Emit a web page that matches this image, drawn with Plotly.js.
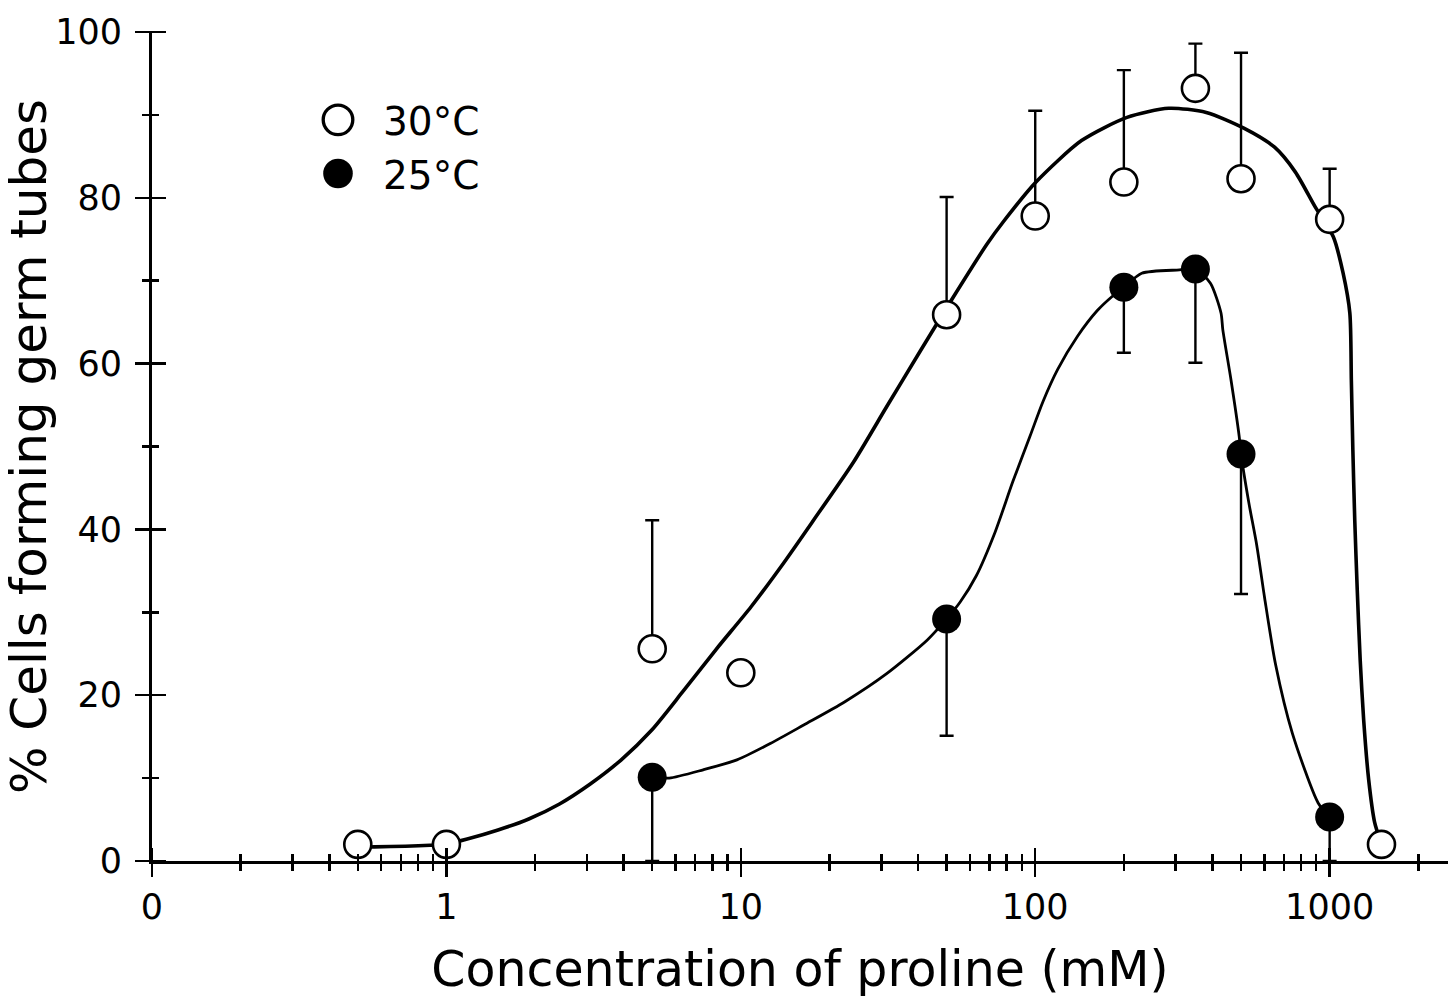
<!DOCTYPE html>
<html>
<head>
<meta charset="utf-8">
<script src="https://cdn.plot.ly/plotly-3.0.1.min.js"></script>
<style>html,body{margin:0;padding:0;background:#fff;}#chart{width:1448px;height:998px;}</style>
</head>
<body>
<div id="chart"></div>
<script>
// ---- data ----
const conc30 = [0.5, 1, 5, 10, 50, 100, 200, 350, 500, 1000, 1500];
const pct30 = [2, 2, 25.6, 22.7, 65.9, 77.8, 81.9, 93.2, 82.3, 77.4, 2];
const err30Up = [0, 0, 15.5, 0, 14.2, 12.7, 13.5, 5.4, 15.2, 6.1, 0];

const conc25 = [5, 50, 200, 350, 500, 1000];
const pct25 = [10.1, 29.2, 69.2, 71.4, 49.1, 5.3];
const err25Down = [10.1, 14.1, 7.9, 11.3, 16.9, 5.3];

// hand-drawn fitted curves
const fit30X = [0.5, 0.57, 0.88, 1, 1.177, 1.497, 1.904, 2.422, 3.08, 3.917, 4.984, 6.34, 8.26, 10.82, 13.98, 17.68, 24.15, 31.24, 40.7, 52.2, 68.6, 77.8, 100.6, 143.6, 205, 284, 381, 511, 650, 765, 893, 1029, 1111, 1171, 1185, 1199, 1217, 1241, 1270, 1305, 1357, 1421, 1500];
const fit30Y = [1.7, 1.7, 1.9, 2.05, 2.65, 3.74, 5.07, 6.88, 9.29, 12.18, 15.8, 20.39, 25.57, 30.64, 35.95, 41.13, 48.13, 54.76, 61.52, 67.79, 74.43, 77.08, 81.9, 86.9, 89.7, 90.8, 90.3, 88.4, 86.1, 83.1, 78.9, 75.3, 70.9, 66.1, 58.0, 49.6, 41.1, 32.7, 24.2, 17.0, 9.8, 4.7, 2];

const fit25X = [5, 5.71, 7.45, 9.70, 12.64, 16.35, 22.5, 31.2, 43.0, 50, 55.6, 63.0, 73.1, 84.0, 95.9, 106.2, 119.2, 139.2, 162.5, 182.5, 200, 230, 309, 350, 393.6, 427.6, 433.6, 462.5, 493, 500, 531.6, 565.4, 601.6, 655.2, 747.2, 914, 1000];
const fit25Y = [10.1, 10.0, 11.0, 12.2, 14.2, 16.4, 19.18, 22.56, 26.66, 29.2, 31.24, 34.38, 39.7, 45.8, 51.2, 55.4, 59.3, 63.3, 66.4, 68.1, 69.2, 70.9, 71.3, 71.4, 69.7, 66.1, 64.1, 58.0, 51.2, 49.1, 43.2, 38.1, 31.7, 23.7, 15.4, 7.0, 5.3];

const xTickVals = [0.1, 1, 10, 100, 1000];
const xTickText = ['0', '1', '10', '100', '1000'];
const xMinorVals = [0.2,0.3,0.4,0.5,0.6,0.7,0.8,0.9, 2,3,4,5,6,7,8,9, 20,30,40,50,60,70,80,90, 200,300,400,500,600,700,800,900, 2000];

const seriesNames = ['30°C', '25°C'];
const xTitle = 'Concentration of proline (mM)';
const yTitle = '% Cells forming germ tubes';

// ---- traces (curves first so the markers are drawn on top) ----
const zeros30 = conc30.map(() => 0);
const zeros25 = conc25.map(() => 0);

const traces = [
  {x: fit30X, y: fit30Y, mode: 'lines', line: {color: 'black', width: 3.6, shape: 'spline', smoothing: 0.7}, showlegend: false, hoverinfo: 'skip'},
  {x: fit25X, y: fit25Y, mode: 'lines', line: {color: 'black', width: 2.8, shape: 'spline', smoothing: 0.7}, showlegend: false, hoverinfo: 'skip'},
  {x: conc30, y: pct30, name: seriesNames[0], mode: 'markers', cliponaxis: false,
   marker: {symbol: 'circle', size: 27, color: 'white', line: {color: 'black', width: 2.6}},
   error_y: {type: 'data', symmetric: false, array: err30Up, arrayminus: zeros30, color: 'black', thickness: 2.4, width: 7}},
  {x: conc25, y: pct25, name: seriesNames[1], mode: 'markers', cliponaxis: false,
   marker: {symbol: 'circle', size: 29, color: 'black', line: {width: 0}},
   error_y: {type: 'data', symmetric: false, array: zeros25, arrayminus: err25Down, color: 'black', thickness: 2.4, width: 7}}
];

const W = 1448, H = 998;
const M = {l: 152, r: 0, t: 32, b: 137};
const pw = W - M.l - M.r, ph = H - M.t - M.b;
const AXIS_LW = 3;

const layout = {
  width: W, height: H,
  margin: {l: M.l, r: M.r, t: M.t, b: M.b, pad: 0},
  paper_bgcolor: 'white', plot_bgcolor: 'white',
  font: {family: 'DejaVu Sans, Arial, sans-serif', color: 'black', size: 35},
  showlegend: true,
  legend: {x: (293 - M.l) / pw, y: 1 - (88 - M.t) / ph, xanchor: 'left', yanchor: 'top',
           font: {size: 39}, itemwidth: 80, bgcolor: 'rgba(0,0,0,0)', borderwidth: 0},
  xaxis: {
    type: 'log', range: [-1, 3.402], tickmode: 'array', tickvals: xTickVals, ticktext: xTickText,
    ticks: 'outside', ticklen: 13, tickwidth: 2.5, tickcolor: 'black',
    showline: true, linewidth: AXIS_LW, linecolor: 'black', showgrid: false, zeroline: false,
    tickfont: {size: 35},
    minor: {tickmode: 'array', tickvals: xMinorVals, ticks: 'outside', ticklen: 7, tickwidth: 2.5, tickcolor: 'black', showgrid: false},
    title: {text: xTitle, font: {size: 49}, standoff: 30}
  },
  yaxis: {
    range: [0, 100], tickmode: 'linear', tick0: 0, dtick: 20,
    ticks: 'outside', ticklen: 14, tickwidth: 2.5, tickcolor: 'black',
    showline: true, linewidth: AXIS_LW, linecolor: 'black', showgrid: false, zeroline: false,
    tickfont: {size: 35}, ticklabelstandoff: 6,
    minor: {tickmode: 'linear', tick0: 0, dtick: 10, ticks: 'outside', ticklen: 7, tickwidth: 2.5, tickcolor: 'black', showgrid: false},
    title: {text: yTitle, font: {size: 50}, standoff: 0}
  }
};

// the figure's ticks cross the axis line: mirror every tick path about the axis line centre
function crossTicks() {
  const pad = AXIS_LW / 2;
  document.querySelectorAll('#chart path.ticks').forEach(function (p) {
    const d = p.getAttribute('d') || '';
    if (p.getAttribute('data-crossed') === d) return;
    const nums = (d.match(/-?\d*\.?\d+(?:e[-+]?\d+)?/gi) || []).map(Number);
    const cmd = d.replace(/[^a-zA-Z]/g, '');
    let a, b, c, e;
    if (cmd === 'Mv' || cmd === 'MV') { a = nums[0]; b = nums[1]; c = a; e = cmd === 'Mv' ? b + nums[2] : nums[2]; }
    else if (cmd === 'Mh' || cmd === 'MH') { a = nums[0]; b = nums[1]; e = b; c = cmd === 'Mh' ? a + nums[2] : nums[2]; }
    else if (cmd === 'ML' && nums.length === 4) { a = nums[0]; b = nums[1]; c = nums[2]; e = nums[3]; }
    else return;
    // move the start back to the centre of the axis line, then reflect through it
    const ca = a - pad * Math.sign(c - a), cb = b - pad * Math.sign(e - b);
    const nd = 'M' + (2 * ca - c) + ',' + (2 * cb - e) + 'L' + c + ',' + e;
    p.setAttribute('d', nd);
    p.setAttribute('data-crossed', nd);
  });
}

function bigLegendSymbols() {
  // Plotly caps legend symbols at 16 px; scale them to the size used in the figure
  document.querySelectorAll('#chart .legend .legendpoints path').forEach(function (p) {
    if (p.getAttribute('data-scaled')) return;
    const t = p.getAttribute('transform') || '';
    p.setAttribute('transform', t + ' scale(1.85)');
    if (parseFloat(p.style.strokeWidth || '0') > 0) p.style.strokeWidth = '1.8px';
    p.setAttribute('data-scaled', '1');
  });
}

function finish() { crossTicks(); bigLegendSymbols(); }

Plotly.newPlot('chart', traces, layout, {displayModeBar: false, staticPlot: true}).then(function (gd) {
  finish();
  gd.on('plotly_afterplot', finish);
  [50, 300, 800].forEach(function (ms) { setTimeout(finish, ms); });
});
</script>
</body>
</html>
